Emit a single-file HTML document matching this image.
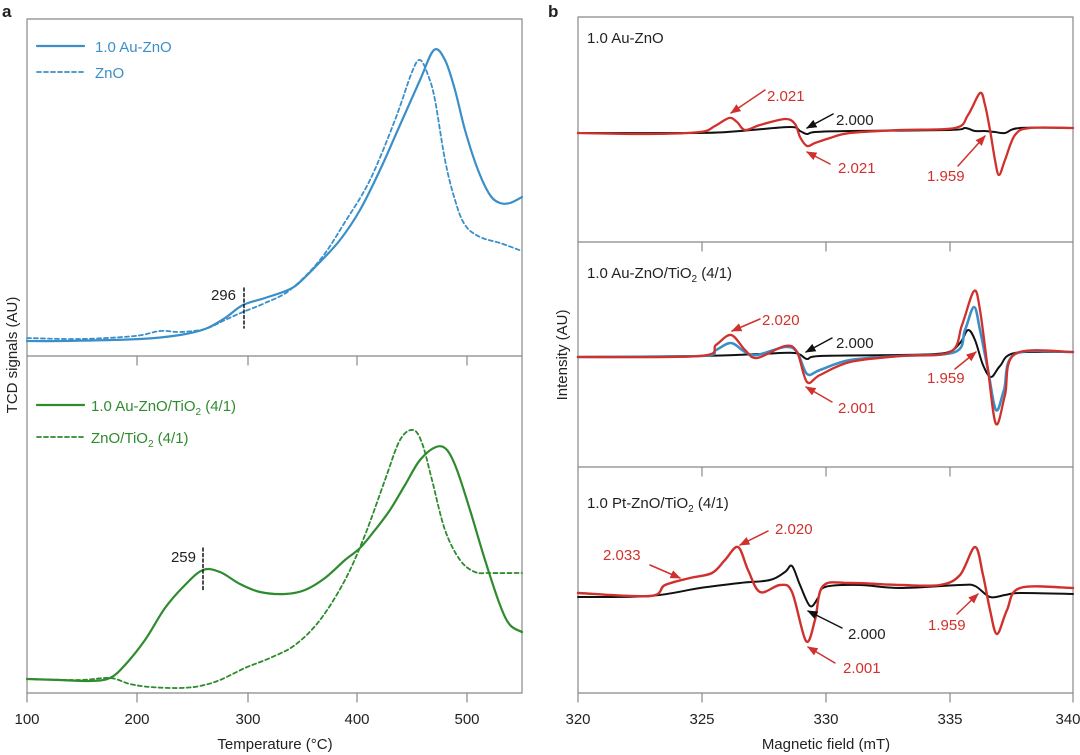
<!DOCTYPE html>
<html><head><meta charset="utf-8"><style>
body{margin:0;background:#fff;}
svg{display:block;font-family:"Liberation Sans",sans-serif;}
</style></head><body>
<svg id="s" width="1080" height="755" viewBox="0 0 1080 755" xmlns="http://www.w3.org/2000/svg">
<defs>
<marker id="ar" viewBox="0 0 10 10" refX="9" refY="5" markerWidth="7" markerHeight="7" orient="auto"><path d="M0,1 L10,5 L0,9 z" fill="#d0312d"/></marker>
<marker id="ak" viewBox="0 0 10 10" refX="9" refY="5" markerWidth="7" markerHeight="7" orient="auto"><path d="M0,1 L10,5 L0,9 z" fill="#111"/></marker>
</defs>
<g fill="none" stroke-linejoin="round" stroke-linecap="round">
<rect x="27" y="19" width="495" height="674" stroke="#888" stroke-width="1.2"/>
<line x1="27" y1="356" x2="522" y2="356" stroke="#888" stroke-width="1.2"/>
<g stroke="#888" stroke-width="1.2">
<line x1="137" y1="356" x2="137" y2="365"/><line x1="248" y1="356" x2="248" y2="365"/><line x1="357" y1="356" x2="357" y2="365"/><line x1="467" y1="356" x2="467" y2="365"/>
<line x1="27" y1="693" x2="27" y2="702"/><line x1="137" y1="693" x2="137" y2="702"/><line x1="248" y1="693" x2="248" y2="702"/><line x1="357" y1="693" x2="357" y2="702"/><line x1="467" y1="693" x2="467" y2="702"/>
</g>
<polyline class="sm" stroke="#3b8fc9" stroke-width="2.2" points="27,341 60,341 140,339 180,335 205,329 225,318 243,305 265,298 288,290 300,282 320,262 340,240 360,210 380,170 400,125 420,80 434,50 445,60 455,90 465,130 478,170 490,195 500,203 510,203 522,197"/>
<polyline class="sm" stroke="#3b8fc9" stroke-width="1.8" stroke-dasharray="4,3" points="27,338 80,339 135,336 160,331 180,332 205,329 225,320 243,312 265,303 290,290 320,260 345,222 370,180 395,120 412,72 420,60 428,75 435,100 445,160 455,200 465,225 480,237 500,243 522,251"/>
<line x1="244" y1="288" x2="244" y2="328" stroke="#111" stroke-width="1.5" stroke-dasharray="3,2.5"/>
<line x1="37" y1="46" x2="84" y2="46" stroke="#3b8fc9" stroke-width="2.2"/>
<line x1="37" y1="72" x2="84" y2="72" stroke="#3b8fc9" stroke-width="1.8" stroke-dasharray="4,3"/>
<polyline class="sm" stroke="#2e8b2e" stroke-width="2.2" points="27,679 60,680 90,681 110,678 125,665 145,640 165,608 185,585 203,570 220,572 240,584 260,592 285,594 305,590 325,578 345,560 360,548 375,530 390,510 405,485 420,460 436,447 447,450 457,470 470,510 485,560 500,605 510,625 522,632"/>
<polyline class="sm" stroke="#2e8b2e" stroke-width="1.8" stroke-dasharray="4,3" points="27,679 80,680 110,678 130,684 150,687 180,688 200,686 220,680 245,668 270,658 295,645 320,620 345,580 365,535 385,480 400,440 413,430 422,443 432,480 445,530 460,560 475,572 490,573 522,573"/>
<line x1="203" y1="548" x2="203" y2="590" stroke="#111" stroke-width="1.5" stroke-dasharray="3,2.5"/>
<line x1="37" y1="405" x2="84" y2="405" stroke="#2e8b2e" stroke-width="2.2"/>
<line x1="37" y1="437" x2="84" y2="437" stroke="#2e8b2e" stroke-width="1.8" stroke-dasharray="4,3"/>

<rect x="578" y="17" width="495" height="676" stroke="#888" stroke-width="1.2"/>
<line x1="578" y1="242" x2="1073" y2="242" stroke="#888" stroke-width="1.2"/>
<line x1="578" y1="467" x2="1073" y2="467" stroke="#888" stroke-width="1.2"/>
<g stroke="#888" stroke-width="1.2">
<line x1="702" y1="242" x2="702" y2="251"/><line x1="826" y1="242" x2="826" y2="251"/><line x1="950" y1="242" x2="950" y2="251"/>
<line x1="702" y1="467" x2="702" y2="476"/><line x1="826" y1="467" x2="826" y2="476"/><line x1="950" y1="467" x2="950" y2="476"/>
<line x1="578" y1="693" x2="578" y2="702"/><line x1="702" y1="693" x2="702" y2="702"/><line x1="826" y1="693" x2="826" y2="702"/><line x1="950" y1="693" x2="950" y2="702"/><line x1="1073" y1="693" x2="1073" y2="702"/>
</g>
<polyline class="sm" stroke="#111" stroke-width="2" points="578,133 700,133 740,131 790,127 800,131 807,134 815,132 850,131 950,130 965,128 975,131 985,131 995,132 1005,133 1020,128 1073,128"/>
<polyline class="sm" stroke="#d0312d" stroke-width="2.3" points="578,133 650,134 700,132 715,126 729,118 737,122 745,130 760,125 785,119 795,124 800,137 807,146 815,143 830,138 850,133 900,130 955,128 968,115 980,93 985,105 990,130 995,160 999,175 1005,160 1015,135 1030,128 1073,128"/>
<polyline class="sm" stroke="#111" stroke-width="2" points="578,357 700,356 760,354 795,353 807,359 820,356 900,355 945,353 960,343 968,330 975,340 983,365 991,377 1000,366 1015,353 1073,352"/>
<polyline class="sm" stroke="#3b8fc9" stroke-width="2.6" points="578,357 700,356 716,350 731,343 745,352 757,355 785,347 797,352 807,374 820,370 850,360 900,356 955,352 965,330 974,307 980,330 988,370 996,410 1004,390 1015,354 1073,352"/>
<polyline class="sm" stroke="#d0312d" stroke-width="2.3" points="578,357 700,356 716,345 731,335 745,350 757,358 785,346 797,352 807,382 820,375 850,362 900,356 950,352 962,325 974,291 980,310 988,370 996,424 1005,395 1015,354 1073,352"/>
<polyline class="sm" stroke="#111" stroke-width="2" points="578,597 650,596 700,588 740,583 770,580 785,572 792,566 800,585 810,606 818,598 825,587 860,585 900,588 960,585 975,586 990,597 1005,595 1020,593 1073,594"/>
<polyline class="sm" stroke="#d0312d" stroke-width="2.4" points="578,593 650,596 665,585 690,578 712,573 725,560 738,547 748,570 760,592 780,585 792,592 806,641 815,620 823,586 850,583 900,585 940,585 960,575 975,547 983,575 990,610 997,634 1007,610 1020,588 1073,588"/>
<g stroke="#d0312d" stroke-width="1.5" marker-end="url(#ar)">
<line x1="765" y1="90" x2="731" y2="113"/>
<line x1="830" y1="164" x2="807" y2="152"/>
<line x1="958" y1="166" x2="985" y2="136"/>
<line x1="760" y1="319" x2="732" y2="331"/>
<line x1="832" y1="402" x2="806" y2="387"/>
<line x1="955" y1="369" x2="976" y2="352"/>
<line x1="650" y1="565" x2="680" y2="578"/>
<line x1="768" y1="531" x2="740" y2="545"/>
<line x1="835" y1="663" x2="808" y2="647"/>
<line x1="957" y1="614" x2="978" y2="594"/>
</g>
<g stroke="#111" stroke-width="1.5" marker-end="url(#ak)">
<line x1="833" y1="114" x2="807" y2="128"/>
<line x1="832" y1="338" x2="806" y2="352"/>
<line x1="842" y1="628" x2="808" y2="611"/>
</g>
</g>

<g font-size="15" fill="#222">
<text x="2" y="17" font-weight="bold" font-size="17">a</text>
<text x="548" y="17" font-weight="bold" font-size="17">b</text>
<text x="95" y="52" fill="#3b8fc9">1.0 Au-ZnO</text>
<text x="95" y="78" fill="#3b8fc9">ZnO</text>
<text x="236" y="300" text-anchor="end">296</text>
<text x="91" y="411" fill="#2e8b2e">1.0 Au-ZnO/TiO<tspan font-size="10" dy="4">2</tspan><tspan dy="-4"> (4/1)</tspan></text>
<text x="91" y="443" fill="#2e8b2e">ZnO/TiO<tspan font-size="10" dy="4">2</tspan><tspan dy="-4"> (4/1)</tspan></text>
<text x="196" y="562" text-anchor="end">259</text>
<g text-anchor="middle">
<text x="27" y="724">100</text><text x="137" y="724">200</text><text x="248" y="724">300</text><text x="357" y="724">400</text><text x="467" y="724">500</text>
<text x="275" y="749">Temperature (°C)</text>
<text x="578" y="724">320</text><text x="702" y="724">325</text><text x="826" y="724">330</text><text x="950" y="724">335</text><text x="1068" y="724">340</text>
<text x="826" y="749">Magnetic field (mT)</text>
<text transform="translate(17,355) rotate(-90)">TCD signals (AU)</text>
<text transform="translate(567,355) rotate(-90)">Intensity (AU)</text>
</g>
<text x="587" y="43">1.0 Au-ZnO</text>
<text x="587" y="278">1.0 Au-ZnO/TiO<tspan font-size="10" dy="4">2</tspan><tspan dy="-4"> (4/1)</tspan></text>
<text x="587" y="508">1.0 Pt-ZnO/TiO<tspan font-size="10" dy="4">2</tspan><tspan dy="-4"> (4/1)</tspan></text>
<g fill="#d0312d">
<text x="767" y="101">2.021</text>
<text x="838" y="173">2.021</text>
<text x="927" y="181">1.959</text>
<text x="762" y="325">2.020</text>
<text x="838" y="413">2.001</text>
<text x="927" y="383">1.959</text>
<text x="603" y="560">2.033</text>
<text x="775" y="534">2.020</text>
<text x="843" y="673">2.001</text>
<text x="928" y="630">1.959</text>
</g>
<text x="836" y="125">2.000</text>
<text x="836" y="348">2.000</text>
<text x="848" y="639">2.000</text>
</g>
</svg>
<script>
document.querySelectorAll('polyline.sm').forEach(function(pl){
  var pts=pl.getAttribute('points').trim().split(/\s+/).map(function(s){return s.split(',').map(Number);});
  var d='M'+pts[0][0]+','+pts[0][1];
  for(var i=0;i<pts.length-1;i++){
    var p0=pts[i-1]||pts[i],p1=pts[i],p2=pts[i+1],p3=pts[i+2]||p2;
    var c1x=p1[0]+(p2[0]-p0[0])/6,c1y=p1[1]+(p2[1]-p0[1])/6;
    var c2x=p2[0]-(p3[0]-p1[0])/6,c2y=p2[1]-(p3[1]-p1[1])/6;
    d+=' C'+c1x.toFixed(1)+','+c1y.toFixed(1)+' '+c2x.toFixed(1)+','+c2y.toFixed(1)+' '+p2[0]+','+p2[1];
  }
  var p=document.createElementNS('http://www.w3.org/2000/svg','path');
  for(var k=0;k<pl.attributes.length;k++){var a=pl.attributes[k];if(a.name!=='points'&&a.name!=='class')p.setAttribute(a.name,a.value);}
  p.setAttribute('d',d);
  pl.parentNode.replaceChild(p,pl);
});
</script>
</body></html>
